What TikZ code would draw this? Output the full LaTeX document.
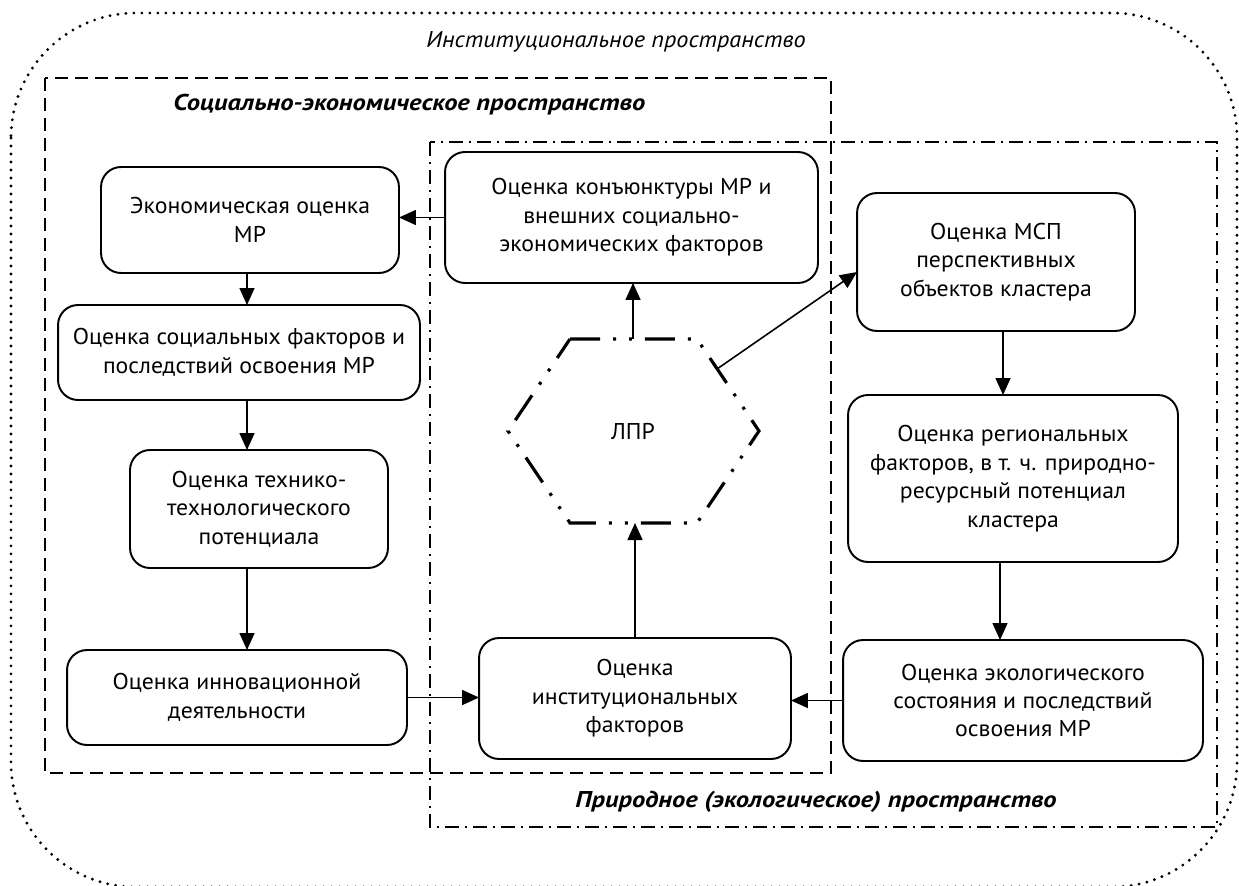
\documentclass[tikz,border=0pt]{standalone}
\usepackage{fontspec}
\setmainfont{PT Sans}[FakeStretch=1.04]
\newfontfamily\lblfont{PT Sans}[FakeStretch=1.16]
\newfontfamily\instfont{PT Sans}[FakeStretch=1.06]
\usetikzlibrary{arrows.meta,calc}
\begin{document}
\begin{tikzpicture}[x=0.02cm,y=-0.02cm,
  box/.style={draw,line width=1.1pt,rounded corners=0.4cm,align=center,inner sep=0pt,outer sep=0pt,
    font=\fontsize{13}{16.2}\selectfont},
  arr/.style={line width=0.9pt,-{Triangle[length=0.34cm,width=0.3cm]}},
  outerdots/.style={line width=1.8pt,line cap=round,dash pattern=on 0pt off 0.16cm},
  sedash/.style={line width=0.9pt,dash pattern=on 0.26cm off 0.14cm},
  nadash/.style={line width=0.9pt,dash pattern=on 0.28cm off 0.12cm on 0.04cm off 0.12cm},
  hexdash/.style={line width=1.8pt,dash pattern=on 0.6cm off 0.26cm on 0.06cm off 0.26cm on 0.06cm off 0.26cm},
  lbl/.style={font=\lblfont\fontsize{13}{15}\selectfont\bfseries\itshape}
]
\useasboundingbox (0,0) rectangle (1239,885);
% outer institutional space
\draw[outerdots,rounded corners=2.5cm] (11,13) rectangle (1237,887);
\node[font=\instfont\fontsize{13}{15}\selectfont\itshape] (inst) at (616,42) {Институциональное пространство};
% socio-economic space
\draw[sedash] (45,78) rectangle (831,773);
\node[lbl,anchor=west,inner sep=0pt] (sel) at (173,105) {Социально-экономическое пространство};
% natural space
\draw[nadash] (430,142) rectangle (1217,827);
\node[lbl,anchor=east,inner sep=0pt] (nal) at (1057,802) {Природное (экологическое) пространство};

% boxes
\node[box,minimum width=5.96cm,minimum height=2.12cm] (b1) at (250,220) {Экономическая оценка\\МР};
\node[box,minimum width=7.24cm,minimum height=1.90cm] (b2) at (239,352.5) {Оценка социальных факторов и\\последствий освоения МР};
\node[box,minimum width=5.16cm,minimum height=2.36cm] (b3) at (259,509) {Оценка технико-\\технологического\\потенциала};
\node[box,minimum width=6.80cm,minimum height=1.90cm] (b4) at (237,697.5) {Оценка инновационной\\деятельности};
\node[box,minimum width=7.46cm,minimum height=2.62cm] (b5) at (631.5,217.5) {Оценка конъюнктуры МР и\\внешних социально-\\экономических факторов};
\node[box,minimum width=6.24cm,minimum height=2.42cm] (b6) at (635,698.5) {Оценка\\институциональных\\факторов};
\node[box,minimum width=5.56cm,minimum height=2.76cm] (b7) at (996,262) {Оценка МСП\\перспективных\\объектов кластера};
\node[box,minimum width=6.60cm,minimum height=3.34cm] (b8) at (1013,478.5) {Оценка региональных\\факторов, в т. ч. природно-\\ресурсный потенциал\\кластера};
\node[box,minimum width=7.20cm,minimum height=2.42cm] (b9) at (1023,700.5) {Оценка экологического\\состояния и последствий\\освоения МР};

% hexagon ЛПР
\coordinate (h1) at (570,339);
\coordinate (h2) at (697,339);
\coordinate (h3) at (759,431);
\coordinate (h4) at (697,523);
\coordinate (h5) at (570,523);
\coordinate (h6) at (508,431);
\draw[hexdash] (h1) -- (h2) -- (h3) -- (h4) -- (h5) -- (h6) -- cycle;
\node[font=\fontsize{13}{15}\selectfont] (lpr) at (633,431) {ЛПР};
\coordinate (htop) at (633,339);
\coordinate (hbot) at (633,523);
\coordinate (hout) at (717,369);

% column guides
\coordinate (lc) at (247,0);
\coordinate (rc1) at (1003,0);
\coordinate (rc2) at (1000,0);

% connectors
\draw[arr] (b5.west) -- (b5.west -| b1.east);
\draw[arr] (b1.south -| lc) -- (b2.north -| lc);
\draw[arr] (b2.south -| lc) -- (b3.north -| lc);
\draw[arr] (b3.south -| lc) -- (b4.north -| lc);
\draw[arr] (b4.east) -- (b4.east -| b6.west);
\draw[arr] (b9.west) -- (b9.west -| b6.east);
\draw[arr] (b6.north) -- (b6.north |- hbot);
\draw[arr] (htop) -- (htop |- b5.south);
\draw[arr] (hout) -- ([yshift=-0.2cm]b7.west);
\draw[arr] (b7.south -| rc1) -- (b8.north -| rc1);
\draw[arr] (b8.south -| rc2) -- (b9.north -| rc2);
\end{tikzpicture}
\end{document}
